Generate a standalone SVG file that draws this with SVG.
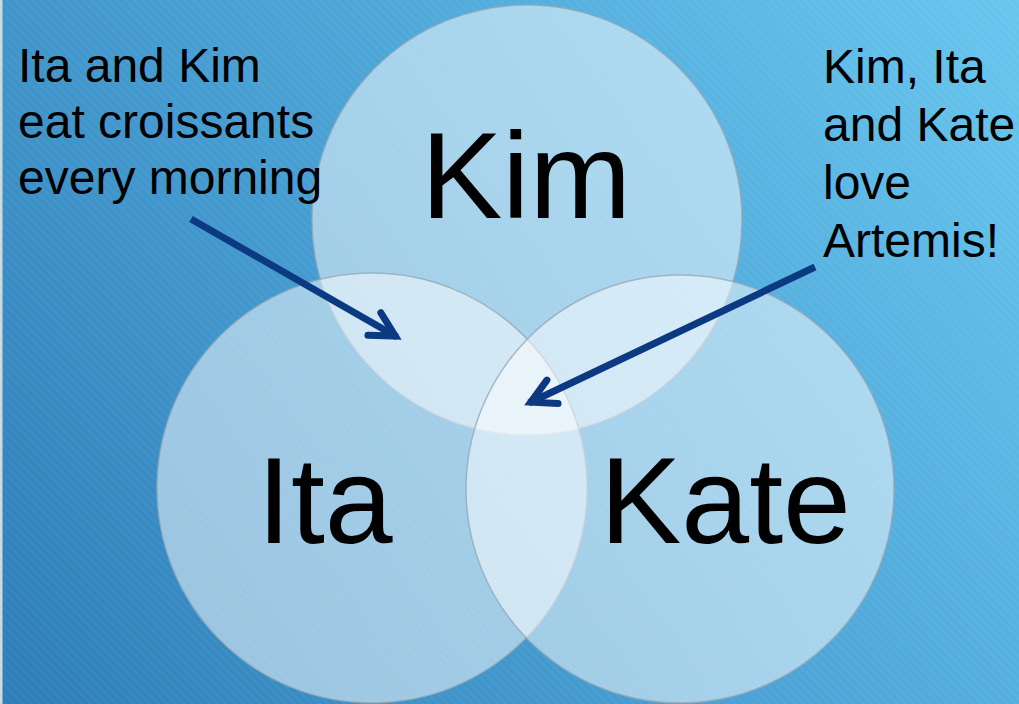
<svg xmlns="http://www.w3.org/2000/svg" width="1019" height="704" viewBox="0 0 1019 704">
<defs>
<linearGradient id="bg" gradientUnits="userSpaceOnUse" x1="0" y1="704" x2="1019" y2="0">
<stop offset="0" stop-color="#2d7db7"/>
<stop offset="0.5" stop-color="#4aa2d5"/>
<stop offset="1" stop-color="#68c6ee"/>
</linearGradient>
<pattern id="tex" width="6" height="6" patternUnits="userSpaceOnUse" patternTransform="rotate(45)">
<rect width="6" height="3" fill="#ffffff" fill-opacity="0.03"/>
</pattern>
<marker id="chev" markerUnits="userSpaceOnUse" markerWidth="60" markerHeight="60" refX="0" refY="0" viewBox="-40 -30 60 60" orient="auto" overflow="visible">
<path d="M-26,-13 L-2,0 L-26,13" fill="none" stroke="#0b3a82" stroke-width="7" stroke-linecap="round" stroke-linejoin="miter"/>
</marker>
<style>
.circ{fill:#ffffff;fill-opacity:0.5;stroke:#94a6b3;stroke-opacity:0.75;stroke-width:1.5}
.big{font-family:"Liberation Sans",Arial,sans-serif;font-size:122px;fill:#000}
.lbl{font-family:"Liberation Sans",Arial,sans-serif;font-size:48px;fill:#000}
.arr{fill:none;stroke:#0b3a82;stroke-width:7;stroke-linecap:butt}
</style>
</defs>
<rect width="1019" height="704" fill="url(#bg)"/>
<rect width="1019" height="704" fill="url(#tex)"/>
<rect x="0" y="0" width="2.5" height="704" fill="#c9dbe6"/>
<g id="kim">
<circle class="circ" cx="527" cy="220" r="215"/>
<text class="big" x="421" y="218">Kim</text>
</g>
<g id="ita">
<circle class="circ" cx="372" cy="488" r="215"/>
<text class="big" x="257" y="543">Ita</text>
</g>
<g id="kate">
<circle class="circ" cx="680" cy="489" r="214"/>
<text class="big" x="600" y="543">Kate</text>
</g>
<g id="note-left">
<text class="lbl" x="18" y="82">Ita and Kim</text>
<text class="lbl" x="18" y="138">eat croissants</text>
<text class="lbl" x="18" y="194">every morning</text>
</g>
<g id="note-right">
<text class="lbl" x="823" y="83">Kim, Ita</text>
<text class="lbl" x="823" y="141">and Kate</text>
<text class="lbl" x="823" y="199">love</text>
<text class="lbl" x="823" y="257">Artemis!</text>
</g>
<g id="connectors">
<line class="arr" x1="191" y1="219" x2="397" y2="337" marker-end="url(#chev)"/>
<line class="arr" x1="815" y1="267" x2="529" y2="403" marker-end="url(#chev)"/>
</g>
</svg>
